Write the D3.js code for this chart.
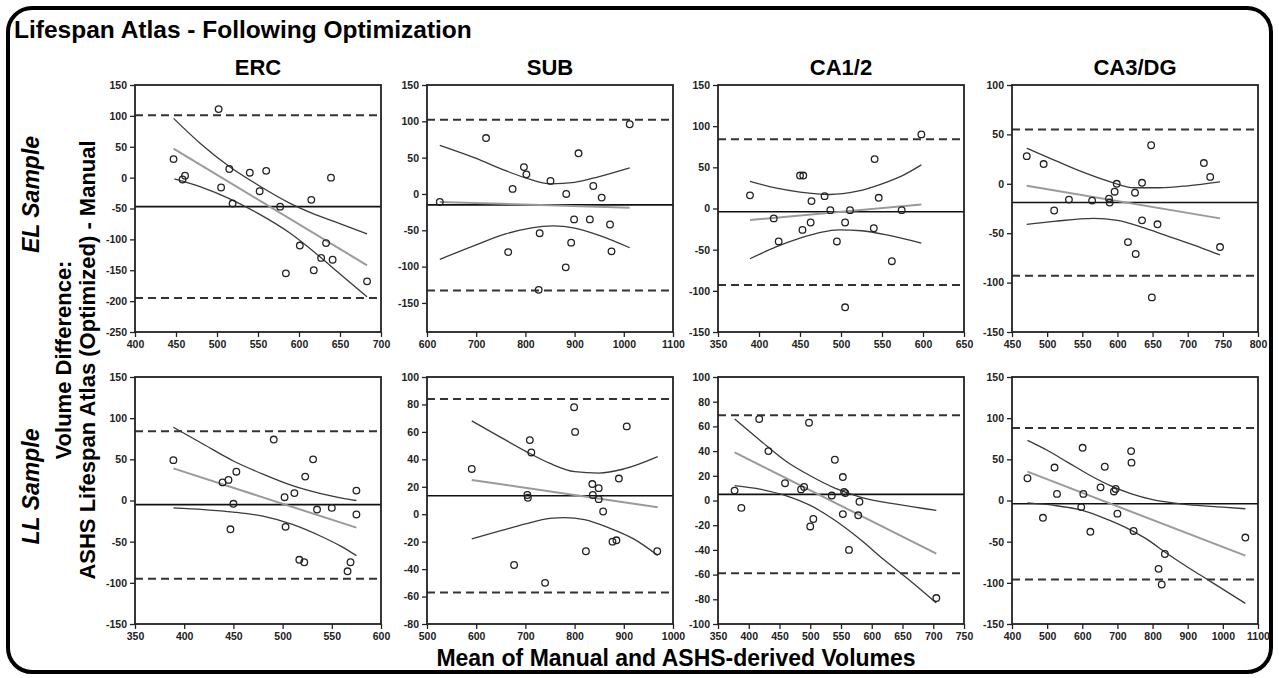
<!DOCTYPE html>
<html>
<head>
<meta charset="utf-8">
<script src="https://cdn.jsdelivr.net/npm/d3@7"></script>
<style>
body{margin:0;background:#fff;}
svg{display:block;font-family:Arial,"Liberation Sans",sans-serif;}
</style>
</head>
<body>
<script>
// ---- data ----
const regions = ["ERC", "SUB", "CA1/2", "CA3/DG"];
const samples = ["EL Sample", "LL Sample"];

// EL sample
const ercElPts = [[447,30],[458,-3],[461,3],[502,111],[505,-16],[515,14],[519,-42],[540,8],[552,-22],[560,11],[577,-47],[584,-155],[601,-110],[615,-36],[618,-150],[627,-130],[633,-106],[639,0],[641,-133],[683,-168]];
const ercElFit = [[447,47],[683,-142]];
const ercElHi = [[447,96],[480,55],[515,18],[550,-12],[588,-41],[620,-60],[649,-74],[683,-91]];
const ercElLo = [[448,-2],[480,-15],[515,-34],[550,-58],[588,-89],[620,-122],[650,-156],[683,-193]];
const ercElBias = [-47, 101, -195];

const subElPts = [[626,-11],[720,77],[765,-80],[774,7],[797,37],[802,27],[829,-54],[827,-132],[851,18],[883,0],[882,-101],[893,-67],[899,-35],[908,56],[931,-35],[938,11],[955,-5],[972,-42],[975,-79],[1012,96]];
const subElFit = [[626,-11],[1012,-19]];
const subElHi = [[626,67],[700,49],[760,32],[810,20],[852,14],[900,16],[950,24],[1012,36]];
const subElLo = [[626,-90],[700,-70],[760,-55],[810,-47],[857,-44],[900,-47],[950,-57],[1012,-74]];
const subElBias = [-15, 102, -133];

const ca12ElPts = [[389,16],[418,-12],[424,-40],[450,40],[454,40],[453,-26],[463,-17],[464,9],[480,15],[487,-2],[495,-40],[505,-120],[505,-17],[511,-2],[540,-24],[541,60],[546,13],[562,-64],[574,-2],[598,90]];
const ca12ElFit = [[389,-14],[598,5]];
const ca12ElHi = [[389,33],[420,25],[450,20],[486,17],[520,21],[550,30],[575,40],[598,53]];
const ca12ElLo = [[389,-61],[420,-47],[450,-36],[475,-29],[498,-26],[525,-27],[560,-33],[598,-42]];
const ca12ElBias = [-4, 84, -93];

const ca3ElPts = [[471,28],[495,20],[510,-27],[531,-16],[564,-17],[588,-15],[589,-19],[596,-8],[599,0],[615,-59],[625,-9],[626,-71],[635,1],[635,-37],[648,39],[649,-115],[657,-41],[723,21],[732,7],[746,-64]];
const ca3ElFit = [[471,-2],[746,-35]];
const ca3ElHi = [[471,36],[510,24],[550,12],[590,2],[624,-4],[660,-4],[700,-2],[746,2]];
const ca3ElLo = [[471,-41],[510,-38],[566,-35],[600,-37],[640,-45],[680,-55],[720,-65],[746,-72]];
const ca3ElBias = [-19, 55, -93];

// LL sample
const ercLlPts = [[389,49],[439,22],[445,25],[447,-35],[450,-4],[453,35],[491,74],[502,4],[503,-32],[512,9],[517,-72],[522,-75],[523,29],[531,50],[535,-11],[550,-9],[566,-86],[569,-75],[575,12],[575,-17]];
const ercLlFit = [[389,39],[575,-33]];
const ercLlHi = [[389,89],[420,68],[450,48],[480,32],[510,18],[540,8],[560,3],[575,0]];
const ercLlLo = [[389,-9],[420,-11],[450,-14],[480,-19],[510,-29],[540,-44],[560,-56],[575,-67]];
const ercLlBias = [-5, 84, -95];

const subLlPts = [[591,33],[677,-37],[709,54],[712,45],[704,14],[705,12],[740,-50],[799,78],[801,60],[823,-27],[836,22],[837,14],[849,19],[849,11],[858,2],[877,-20],[885,-19],[890,26],[906,64],[968,-27]];
const subLlFit = [[591,25],[969,5]];
const subLlHi = [[591,68],[650,56],[700,46],[750,37],[800,31],[850,30],[900,33],[969,42]];
const subLlLo = [[591,-18],[650,-12],[700,-7],[750,-3],[780,-2.5],[820,-4],[870,-10],[920,-18],[969,-30]];
const subLlBias = [13.5, 84, -57];

const ca12LlPts = [[377,8],[388,-6],[417,66],[432,40],[459,14],[485,9],[490,11],[498,63],[500,-21],[505,-15],[535,4],[540,33],[553,19],[553,-11],[555,7],[557,6],[563,-40],[578,-12],[580,-1],[705,-79]];
const ca12LlFit = [[377,39],[705,-43]];
const ca12LlHi = [[377,66],[420,48],[460,32],[500,20],[540,10],[580,3],[640,-3],[705,-8]];
const ca12LlLo = [[377,12],[420,9],[460,4],[500,-4],[540,-16],[580,-31],[620,-48],[660,-64],[705,-83]];
const ca12LlBias = [5, 69, -59];

const ca3LlPts = [[444,27],[488,-21],[521,40],[528,8],[597,-8],[601,64],[603,8],[623,-38],[652,16],[664,41],[690,11],[695,14],[700,-16],[739,60],[740,46],[746,-37],[835,-65],[817,-83],[826,-102],[1064,-45]];
const ca3LlFit = [[444,35],[1064,-67]];
const ca3LlHi = [[444,73],[500,61],[560,46],[620,31],[680,18],[740,8],[800,1],[900,-5],[1000,-8],[1064,-10]];
const ca3LlLo = [[444,-3],[520,-6],[600,-12],[660,-21],[720,-32],[780,-46],[840,-64],[900,-81],[960,-97],[1064,-125]];
const ca3LlBias = [-4, 88, -96];

// axis ticks
const ercElXT = [400,450,500,550,600,650,700];
const ercElYT = [-250,-200,-150,-100,-50,0,50,100,150];
const subElXT = [600,700,800,900,1000,1100];
const subElYT = [-150,-100,-50,0,50,100,150];
const ca12ElXT = [350,400,450,500,550,600,650];
const ca12ElYT = [-150,-100,-50,0,50,100,150];
const ca3ElXT = [450,500,550,600,650,700,750,800];
const ca3ElYT = [-150,-100,-50,0,50,100];
const ercLlXT = [350,400,450,500,550,600];
const ercLlYT = [-150,-100,-50,0,50,100,150];
const subLlXT = [500,600,700,800,900,1000];
const subLlYT = [-80,-60,-40,-20,0,20,40,60,80,100];
const ca12LlXT = [350,400,450,500,550,600,650,700,750];
const ca12LlYT = [-100,-80,-60,-40,-20,0,20,40,60,80,100];
const ca3LlXT = [400,500,600,700,800,900,1000,1100];
const ca3LlYT = [-150,-100,-50,0,50,100,150];
const subElYMin = -190;

const panels = [
  {pts: ercElPts, fit: ercElFit, hi: ercElHi, lo: ercElLo, bias: ercElBias, xt: ercElXT, yt: ercElYT},
  {pts: subElPts, fit: subElFit, hi: subElHi, lo: subElLo, bias: subElBias, xt: subElXT, yt: subElYT, ymin: subElYMin},
  {pts: ca12ElPts, fit: ca12ElFit, hi: ca12ElHi, lo: ca12ElLo, bias: ca12ElBias, xt: ca12ElXT, yt: ca12ElYT},
  {pts: ca3ElPts, fit: ca3ElFit, hi: ca3ElHi, lo: ca3ElLo, bias: ca3ElBias, xt: ca3ElXT, yt: ca3ElYT},
  {pts: ercLlPts, fit: ercLlFit, hi: ercLlHi, lo: ercLlLo, bias: ercLlBias, xt: ercLlXT, yt: ercLlYT},
  {pts: subLlPts, fit: subLlFit, hi: subLlHi, lo: subLlLo, bias: subLlBias, xt: subLlXT, yt: subLlYT},
  {pts: ca12LlPts, fit: ca12LlFit, hi: ca12LlHi, lo: ca12LlLo, bias: ca12LlBias, xt: ca12LlXT, yt: ca12LlYT},
  {pts: ca3LlPts, fit: ca3LlFit, hi: ca3LlHi, lo: ca3LlLo, bias: ca3LlBias, xt: ca3LlXT, yt: ca3LlYT}
];

// ---- layout ----
const w = 1279, h = 678;
const colLeft = [135, 427, 718, 1012];
const rowTop = [85, 377];
const pw = 246, ph = 247;

const svg = d3.select("body").append("svg")
  .attr("width", w).attr("height", h);

// outer rounded frame
svg.append("rect")
  .attr("x", 8).attr("y", 8).attr("width", w - 16).attr("height", h - 14)
  .attr("rx", 24).attr("ry", 24)
  .attr("fill", "none").attr("stroke", "#000").attr("stroke-width", 4);

svg.append("text")
  .attr("x", 14).attr("y", 38)
  .attr("font-size", 24.5).attr("font-weight", "bold")
  .text("Lifespan Atlas - Following Optimization");

regions.forEach((r, i) => {
  svg.append("text")
    .attr("x", colLeft[i] + pw / 2).attr("y", 75)
    .attr("text-anchor", "middle")
    .attr("font-size", 22).attr("font-weight", "bold")
    .text(r);
});

samples.forEach((s, i) => {
  svg.append("text")
    .attr("transform", "translate(31," + (rowTop[i] + ph / 2 - 14) + ") rotate(-90)")
    .attr("text-anchor", "middle").attr("dy", "0.35em")
    .attr("font-size", 23).attr("font-weight", "bold").attr("font-style", "italic")
    .text(s);
});

svg.append("text")
  .attr("transform", "translate(63,360) rotate(-90)")
  .attr("text-anchor", "middle").attr("dy", "0.35em")
  .attr("font-size", 22).attr("font-weight", "bold")
  .text("Volume Difference:");
svg.append("text")
  .attr("transform", "translate(87,360) rotate(-90)")
  .attr("text-anchor", "middle").attr("dy", "0.35em")
  .attr("font-size", 22).attr("font-weight", "bold")
  .text("ASHS Lifespan Atlas (Optimized) - Manual");

svg.append("text")
  .attr("x", 676).attr("y", 666)
  .attr("text-anchor", "middle")
  .attr("font-size", 23).attr("font-weight", "bold")
  .text("Mean of Manual and ASHS-derived Volumes");

// ---- panels ----
panels.forEach((p, i) => {
  const col = i % 4, row = Math.floor(i / 4);
  const g = svg.append("g")
    .attr("transform", "translate(" + colLeft[col] + "," + rowTop[row] + ")");

  const x = d3.scaleLinear()
    .domain([p.xt[0], p.xt[p.xt.length - 1]])
    .range([0, pw]);
  const y = d3.scaleLinear()
    .domain([p.ymin !== undefined ? p.ymin : p.yt[0], p.yt[p.yt.length - 1]])
    .range([ph, 0]);

  const xAxis = g.append("g")
    .attr("transform", "translate(0," + ph + ")")
    .call(d3.axisBottom(x).tickValues(p.xt).tickSize(5).tickPadding(4).tickFormat(d => String(d)));
  const yAxis = g.append("g")
    .call(d3.axisLeft(y).tickValues(p.yt).tickSize(5).tickPadding(3).tickFormat(d => String(d)));
  [xAxis, yAxis].forEach(a => {
    a.select(".domain").remove();
    a.selectAll("line").attr("stroke", "#222").attr("stroke-width", 1.3);
    a.selectAll("text")
      .attr("font-family", "Arial, 'Liberation Sans', sans-serif")
      .attr("font-size", 10.5).attr("font-weight", "bold").attr("fill", "#222");
  });

  // limits of agreement (dashed) and mean bias (solid)
  g.selectAll(".loa")
    .data(p.bias.slice(1))
    .enter().append("line")
    .attr("x1", 0).attr("x2", pw)
    .attr("y1", d => y(d)).attr("y2", d => y(d))
    .attr("stroke", "#333").attr("stroke-width", 2)
    .attr("stroke-dasharray", "8,5");
  g.append("line")
    .attr("x1", 0).attr("x2", pw)
    .attr("y1", y(p.bias[0])).attr("y2", y(p.bias[0]))
    .attr("stroke", "#111").attr("stroke-width", 1.6);

  const line = d3.line().x(d => x(d[0])).y(d => y(d[1]));
  const curve = d3.line().x(d => x(d[0])).y(d => y(d[1])).curve(d3.curveMonotoneX);

  g.append("path").attr("d", line(p.fit))
    .attr("fill", "none").attr("stroke", "#9a9a9a").attr("stroke-width", 2);
  [p.hi, p.lo].forEach(b => {
    g.append("path").attr("d", curve(b))
      .attr("fill", "none").attr("stroke", "#3a3a3a").attr("stroke-width", 1.3);
  });

  g.selectAll("circle")
    .data(p.pts)
    .enter().append("circle")
    .attr("cx", d => x(d[0]))
    .attr("cy", d => y(d[1]))
    .attr("r", 3.3)
    .attr("fill", "none").attr("stroke", "#222").attr("stroke-width", 1.3);

  // plot frame
  g.append("rect")
    .attr("width", pw).attr("height", ph)
    .attr("fill", "none").attr("stroke", "#222").attr("stroke-width", 1.8);
});
</script>
</body>
</html>
